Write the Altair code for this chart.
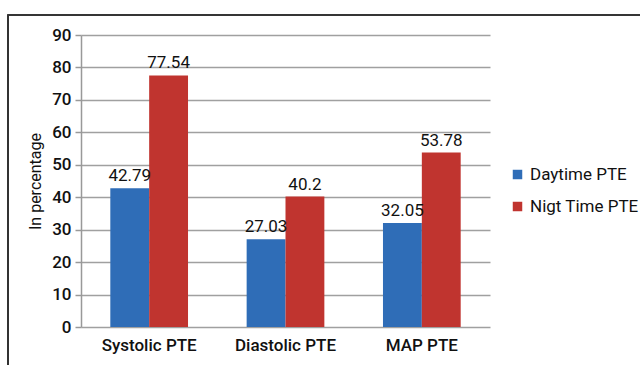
import altair as alt
import pandas as pd

categories = ["Systolic PTE", "Diastolic PTE", "MAP PTE"]
series = ["Daytime PTE", "Nigt Time PTE"]
daytime = [42.79, 27.03, 32.05]
nighttime = [77.54, 40.2, 53.78]
day_labels = ["42.79", "27.03", "32.05"]
night_labels = ["77.54", "40.2", "53.78"]

rows = []
for c, d, n, dl, nl in zip(categories, daytime, nighttime, day_labels, night_labels):
    rows.append({"cat": c, "series": series[0], "value": d, "label": dl})
    rows.append({"cat": c, "series": series[1], "value": n, "label": nl})
df = pd.DataFrame(rows)

FONT = "Roboto"
color_scale = alt.Scale(domain=series, range=["#2F6DB7", "#C0342F"])

base = alt.Chart(df).encode(
    x=alt.X("cat:N", sort=categories, title=None,
            scale=alt.Scale(paddingInner=0.43, paddingOuter=0.215),
            axis=alt.Axis(labelAngle=0, labelPadding=10, ticks=False,
                          domain=False, grid=False)),
    xOffset=alt.XOffset("series:N", sort=series),
    y=alt.Y("value:Q", title="In percentage",
            scale=alt.Scale(domain=[0, 90], nice=False),
            axis=alt.Axis(values=list(range(0, 91, 10)), tickSize=6,
                          tickColor="#999", tickWidth=1.5, domainColor="#999",
                          domainWidth=1.5, gridColor="#A0A0A0", gridWidth=1.5,
                          labelPadding=4, titlePadding=8)),
)

bars = base.mark_bar().encode(
    color=alt.Color("series:N", scale=color_scale, sort=series,
                    legend=alt.Legend(title=None, orient="none", legendX=428,
                                      legendY=131, symbolType="square",
                                      symbolSize=90, symbolStrokeWidth=0,
                                      rowPadding=14, labelOffset=4))
)

texts = base.mark_text(dy=-12, fontSize=17, font=FONT, color="#111").encode(
    text="label:N")

frame = alt.Chart(df).mark_rect(fill=None, stroke="#333", strokeWidth=1.2).encode(
    x=alt.value(-73), x2=alt.value(700), y=alt.value(-20), y2=alt.value(400)
)

chart = alt.layer(bars, texts, frame).properties(
    width=409, height=292, background="white",
    autosize=alt.AutoSizeParams(type="none"),
    padding={"left": 81, "top": 35, "right": 150, "bottom": 38},
).configure_view(stroke=None).configure_axis(
    labelFont=FONT, labelFontSize=17, labelFontWeight=500, labelColor="#111",
    titleFont=FONT, titleFontSize=16, titleFontWeight="normal", titleColor="#111",
).configure_legend(
    labelFont=FONT, labelFontSize=17, labelColor="#111", labelLimit=300,
)

chart.save("out.html", embed_options={"renderer": "svg", "actions": False})
